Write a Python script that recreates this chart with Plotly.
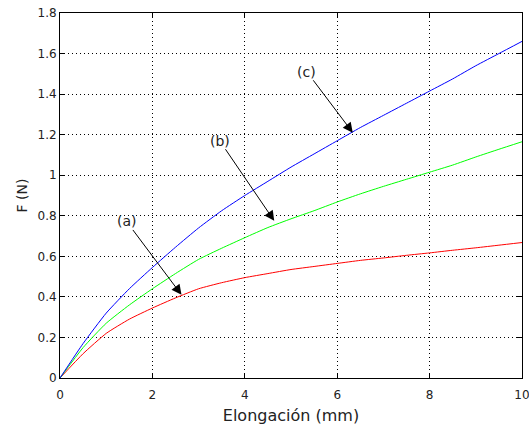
import plotly.graph_objects as go

# ---- data ----
elong = [0, 0.5, 1, 1.5, 2, 2.5, 3, 3.5, 4, 4.5, 5, 5.5, 6, 6.5, 7, 7.5, 8, 8.5, 9, 9.5, 10]
f_a = [0, 0.12, 0.22, 0.29, 0.345, 0.395, 0.44, 0.47, 0.495, 0.515, 0.535, 0.55, 0.565,
       0.58, 0.592, 0.605, 0.617, 0.63, 0.642, 0.655, 0.668]
f_b = [0, 0.15, 0.27, 0.36, 0.44, 0.515, 0.585, 0.64, 0.692, 0.742, 0.785, 0.825, 0.868,
       0.908, 0.945, 0.98, 1.015, 1.05, 1.09, 1.128, 1.165]
f_c = [0, 0.17, 0.32, 0.44, 0.545, 0.645, 0.74, 0.825, 0.9, 0.97, 1.04, 1.105, 1.17,
       1.235, 1.295, 1.355, 1.415, 1.475, 1.54, 1.6, 1.66]
labels = ["(a)", "(b)", "(c)"]
x_ticks = [0, 2, 4, 6, 8, 10]
y_ticks = [0, 0.2, 0.4, 0.6, 0.8, 1, 1.2, 1.4, 1.6, 1.8]
y_ticktext = ["0", "0.2", "0.4", "0.6", "0.8", "1", "1.2", "1.4", "1.6", "1.8"]

# annotation geometry (label centre and arrow tip, in data units)
label_pos = [(1.44, 0.772), (3.456, 1.17), (5.343, 1.51)]
tip_pos = [(2.63, 0.41), (4.637, 0.775), (6.337, 1.21)]

fig = go.Figure()
for y, col in [(f_a, "#ff0000"), (f_b, "#00ff00"), (f_c, "#0000ff")]:
    fig.add_trace(go.Scatter(x=elong, y=y, mode="lines",
                             line=dict(color=col, width=1, shape="spline", smoothing=0.5),
                             showlegend=False))

for lab, (lx, ly), (tx, ty) in zip(labels, label_pos, tip_pos):
    fig.add_annotation(x=tx, y=ty, ax=lx, ay=ly, axref="x", ayref="y", xref="x", yref="y",
                       text=lab, showarrow=True, arrowhead=2, arrowsize=2, arrowwidth=1,
                       arrowcolor="#000000", font=dict(family="DejaVu Sans", size=14, color="#222"),
                       borderpad=0)

axis_common = dict(showline=True, linecolor="#000000", linewidth=1, mirror="ticks",
                   ticks="inside", ticklen=5, tickcolor="#000000", automargin=False,
                   ticklabeloverflow="allow",
                   showgrid=True, gridcolor="#000000", gridwidth=1, griddash="1px,3px",
                   zeroline=False, tickfont=dict(family="DejaVu Sans", size=12, color="#222"))

fig.update_xaxes(range=[0, 10], tickvals=x_ticks, ticklabelstandoff=6,
                 title=dict(text="Elongación (mm)", font=dict(family="DejaVu Sans", size=16, color="#222"),
                            standoff=8),
                 **axis_common)
fig.update_yaxes(range=[0, 1.8], tickvals=y_ticks, ticktext=y_ticktext,
                 title=dict(text="F (N)", font=dict(family="DejaVu Sans", size=14, color="#222"),
                            standoff=6),
                 **axis_common)

fig.update_layout(width=529, height=428, margin=dict(l=60, r=7, t=13, b=50),
                  plot_bgcolor="white", paper_bgcolor="white")

fig.write_html("out.html", config={"displayModeBar": False},
               post_script="document.body.style.margin='0';document.body.style.overflow='hidden';")
